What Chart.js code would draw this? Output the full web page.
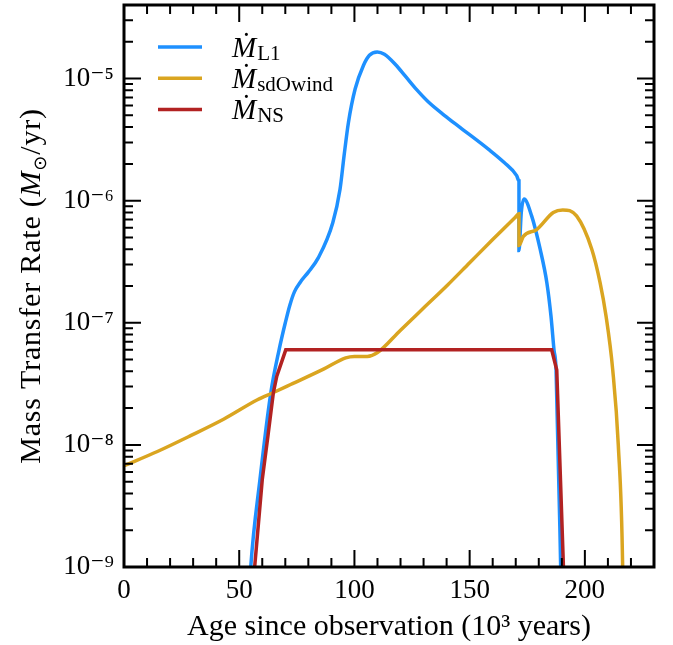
<!DOCTYPE html>
<html>
<head>
<meta charset="utf-8">
<script src="https://cdn.jsdelivr.net/npm/chart.js@4.4.1/dist/chart.umd.min.js"></script>
<style>
  html, body { margin: 0; padding: 0; background: #fff; }
  canvas { display: block; }
</style>
</head>
<body>
<canvas id="myChart" width="673" height="645"></canvas>
<script>
// datos (edad en 10^3 anos, tasa en Msun/yr)
var l1Age  = [53, 55, 59, 63.7, 67.3, 70, 72, 74, 76.5, 80, 84.3, 90.6, 93.75, 95.5, 97.4, 100.3, 103.9, 106.5, 109.9, 113, 118, 122, 127, 132, 139, 145.8, 158.1, 165, 170.4, 171.4, 171.4, 172.4, 173.6, 176.9, 180.6, 183.5, 185.3, 186.6, 187.5, 189.5, 190.5];
var l1Rate = [2e-10, 1e-9, 5.2e-9, 2.66e-8, 6e-8, 1e-7, 1.4e-7, 1.8e-7, 2.15e-7, 2.6e-7, 3.4e-7, 6.6e-7, 1.24e-6, 2.33e-6, 4.37e-6, 8.2e-6, 1.28e-5, 1.55e-5, 1.65e-5, 1.58e-5, 1.29e-5, 1.05e-5, 8.1e-6, 6.45e-6, 5.0e-6, 3.98e-6, 2.64e-6, 2.05e-6, 1.6e-6, 1.45e-6, 3.9e-7, 8e-7, 1.03e-6, 7.5e-7, 4e-7, 2.13e-7, 1.13e-7, 6e-8, 4.1e-8, 1e-9, 1e-10];

var windAge  = [0, 14.5, 28.9, 43.4, 57.9, 64.4, 72.3, 86.8, 96.2, 100, 105.6, 110, 120, 130, 140, 150, 160, 169.5, 171.4, 171.4, 173.3, 179.1, 186.3, 190.4, 196.4, 203, 206.6, 209.2, 212.1, 214.5, 216.4, 217];
var windRate = [6.75e-9, 8.83e-9, 1.19e-8, 1.63e-8, 2.34e-8, 2.66e-8, 3.12e-8, 4.19e-8, 5.16e-8, 5.3e-8, 5.3e-8, 5.7e-8, 8.7e-8, 1.32e-7, 2.0e-7, 3.1e-7, 4.8e-7, 7.2e-7, 7.8e-7, 4.3e-7, 5.1e-7, 5.8e-7, 8e-7, 8.4e-7, 7.5e-7, 4e-7, 2.13e-7, 1.13e-7, 4.1e-8, 1e-8, 1e-9, 1e-10];

var nsAge  = [55.8, 56.7, 60, 62.5, 64.8, 66.3, 70.2, 185.6, 187.8, 190.7, 191.3];
var nsRate = [5e-10, 1e-9, 5.2e-9, 1.2e-8, 2.66e-8, 3.65e-8, 6e-8, 6e-8, 4.1e-8, 1e-9, 5e-10];

var seriesNames = ['L1', 'sdOwind', 'NS'];
var xTickValues = [0, 50, 100, 150, 200];
var yTickValues = [1e-9, 1e-8, 1e-7, 1e-6, 1e-5];
var yTickLabels = ['10⁻⁹', '10⁻⁸', '10⁻⁷', '10⁻⁶', '10⁻⁵'];

var FONT = '"Liberation Serif", "DejaVu Serif", serif';

function pts(xs, ys) {
    return xs.map(function (x, i) { return { x: x, y: ys[i] }; });
}

// marco y ticks hacia adentro en los cuatro lados
var frameTicks = {
    id: 'frameTicks',
    afterDatasetsDraw: function (chart) {
        var ctx = chart.ctx, a = chart.chartArea;
        var sx = chart.scales.x, sy = chart.scales.y;
        ctx.save();
        ctx.strokeStyle = '#000';
        ctx.lineWidth = 2;
        ctx.beginPath();
        for (var v = sx.min; v <= sx.max; v += 10) {
            var px = sx.getPixelForValue(v);
            var len = (v % 50 === 0) ? 17 : 9;
            ctx.moveTo(px, a.bottom); ctx.lineTo(px, a.bottom - len);
            ctx.moveTo(px, a.top); ctx.lineTo(px, a.top + len);
        }
        for (var e = -9; e <= -5; e++) {
            for (var m = 1; m <= 9; m++) {
                var val = m * Math.pow(10, e);
                if (val > sy.max) break;
                var py = sy.getPixelForValue(val);
                var l = (m === 1) ? 17 : 9;
                ctx.moveTo(a.left, py); ctx.lineTo(a.left + l, py);
                ctx.moveTo(a.right, py); ctx.lineTo(a.right - l, py);
            }
        }
        ctx.stroke();
        ctx.lineWidth = 3;
        ctx.strokeRect(a.left, a.top, a.right - a.left, a.bottom - a.top);
        ctx.restore();
    }
};

// leyenda con subindices y titulo del eje y
var mathText = {
    id: 'mathText',
    afterDraw: function (chart) {
        var ctx = chart.ctx, a = chart.chartArea;
        ctx.save();
        ctx.textBaseline = 'alphabetic';
        ctx.textAlign = 'left';
        seriesNames.forEach(function (name, i) {
            var ds = chart.data.datasets[i];
            var y = 47 + i * 31.2;
            ctx.strokeStyle = ds.borderColor;
            ctx.lineWidth = 3.5;
            ctx.beginPath();
            ctx.moveTo(158, y); ctx.lineTo(202, y);
            ctx.stroke();
            ctx.fillStyle = '#000';
            ctx.font = 'italic 29px ' + FONT;
            ctx.fillText('Ṁ', 232, y + 10);
            var w = ctx.measureText('Ṁ').width;
            ctx.font = '21px ' + FONT;
            ctx.fillText(name, 232 + w + 1, y + 13);
        });

        // titulo eje y: Mass Transfer Rate (M_sun/yr)
        ctx.letterSpacing = '0.8px';
        var parts = [
            { t: 'Mass Transfer Rate (', f: '30px ' + FONT, dy: 0 },
            { t: 'M', f: 'italic 30px ' + FONT, dy: 0 },
            { t: '⊙', f: '18px "DejaVu Sans", ' + FONT, dy: 6 },
            { t: '/yr)', f: '30px ' + FONT, dy: 0 }
        ];
        var total = 0;
        parts.forEach(function (p) { ctx.font = p.f; p.w = ctx.measureText(p.t).width; total += p.w; });
        ctx.translate(40, (a.top + a.bottom) / 2);
        ctx.rotate(-Math.PI / 2);
        var x = -total / 2;
        parts.forEach(function (p) {
            ctx.font = p.f;
            ctx.fillText(p.t, x, p.dy);
            x += p.w;
        });
        ctx.restore();
    }
};

var ctx = document.getElementById('myChart').getContext('2d');
var myChart = new Chart(ctx,
{
    type: 'line',
    data:
    {
        datasets:
        [
            { label: seriesNames[0], data: pts(l1Age, l1Rate), borderColor: '#1E90FF', order: 3 },
            { label: seriesNames[1], data: pts(windAge, windRate), borderColor: '#DAA520', order: 2 },
            { label: seriesNames[2], data: pts(nsAge, nsRate), borderColor: '#B22222', order: 1,
              cubicInterpolationMode: 'default', tension: 0 }
        ]
    },
    options:
    {
        responsive: false,
        animation: false,
        devicePixelRatio: 1,
        layout: { padding: { top: 5, right: 19, left: 0, bottom: 0 } },
        elements: {
            line: { borderWidth: 3.5, cubicInterpolationMode: 'monotone', fill: false },
            point: { radius: 0, hoverRadius: 0 }
        },
        plugins: {
            legend: { display: false },
            tooltip: { enabled: false }
        },
        scales:
        {
            x: {
                type: 'linear',
                min: 0,
                max: 230,
                afterBuildTicks: function (s) { s.ticks = xTickValues.map(function (v) { return { value: v }; }); },
                afterFit: function (s) { s.height = 78; s.paddingLeft = 0; s.paddingRight = 0; },
                grid: { display: false, drawTicks: false },
                border: { display: false },
                ticks: { color: '#000', font: { family: FONT, size: 27 }, padding: 8, maxRotation: 0 },
                title: {
                    display: true,
                    text: 'Age since observation (10³ years)',
                    color: '#000',
                    font: { family: FONT, size: 30 },
                    padding: { top: 0, bottom: 0 }
                }
            },
            y: {
                type: 'logarithmic',
                min: 1e-9,
                max: 4e-5,
                afterBuildTicks: function (s) { s.ticks = yTickValues.map(function (v) { return { value: v }; }); },
                afterFit: function (s) { s.width = 124; s.paddingTop = 0; s.paddingBottom = 0; },
                grid: { display: false, drawTicks: false },
                border: { display: false },
                ticks: {
                    color: '#000',
                    font: { family: FONT, size: 27 },
                    padding: 10,
                    callback: function (v) {
                        var i = yTickValues.findIndex(function (t) { return Math.abs(t - v) / t < 1e-6; });
                        return i >= 0 ? yTickLabels[i] : '';
                    }
                }
            }
        }
    },
    plugins: [frameTicks, mathText]
});
</script>
</body>
</html>
